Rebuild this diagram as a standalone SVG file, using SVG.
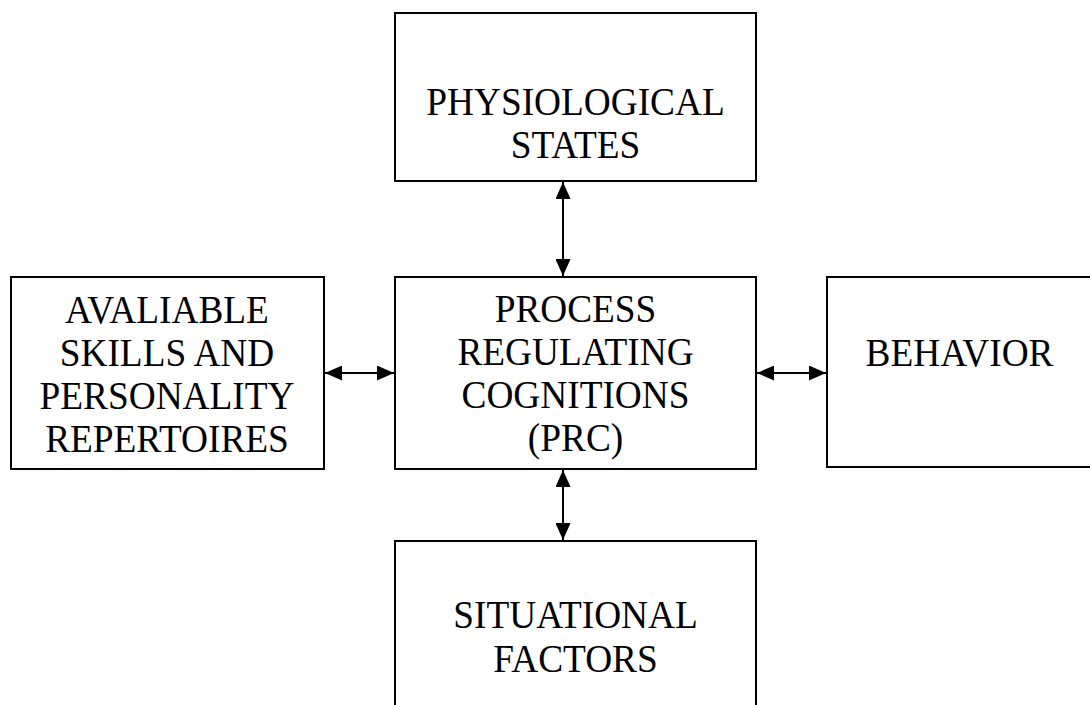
<svg xmlns="http://www.w3.org/2000/svg" width="1090" height="705" viewBox="0 0 1090 705">
<style>
.box{fill:#fff;stroke:#000;stroke-width:2}
.lbl{font-family:"Liberation Serif","Times New Roman",serif;font-size:41px;fill:#000;text-anchor:middle}
.con{stroke:#000;stroke-width:2;fill:none}
</style>
<defs>
<marker id="ah" viewBox="0 0 17 15" refX="17" refY="7.5" markerWidth="17" markerHeight="15" markerUnits="userSpaceOnUse" orient="auto-start-reverse">
<path d="M0,0 L17,7.5 L0,15 Z" fill="#000"/>
</marker>
</defs>
<rect width="1090" height="705" fill="#fff"/>
<g id="connectors">
<line class="con" x1="563" y1="182" x2="563" y2="276" marker-start="url(#ah)" marker-end="url(#ah)"/>
<line class="con" x1="563" y1="470" x2="563" y2="540" marker-start="url(#ah)" marker-end="url(#ah)"/>
<line class="con" x1="325" y1="373" x2="394" y2="373" marker-start="url(#ah)" marker-end="url(#ah)"/>
<line class="con" x1="757" y1="373" x2="826" y2="373" marker-start="url(#ah)" marker-end="url(#ah)"/>
</g>
<g id="physiological">
<rect class="box" x="395" y="13" width="361" height="168"/>
<g transform="translate(575.5 0) scale(0.91 1)">
<text class="lbl" x="0" y="115">PHYSIOLOGICAL</text>
<text class="lbl" x="0" y="158">STATES</text>
</g>
</g>
<g id="prc">
<rect class="box" x="395" y="277" width="361" height="192"/>
<g transform="translate(575.5 0) scale(0.91 1)">
<text class="lbl" x="0" y="322">PROCESS</text>
<text class="lbl" x="0" y="365">REGULATING</text>
<text class="lbl" x="0" y="408">COGNITIONS</text>
<text class="lbl" x="0" y="451">(PRC)</text>
</g>
</g>
<g id="skills">
<rect class="box" x="11" y="277" width="313" height="192"/>
<g transform="translate(167 0) scale(0.91 1)">
<text class="lbl" x="0" y="323">AVALIABLE</text>
<text class="lbl" x="0" y="366">SKILLS AND</text>
<text class="lbl" x="0" y="409">PERSONALITY</text>
<text class="lbl" x="0" y="452">REPERTOIRES</text>
</g>
</g>
<g id="behavior">
<rect class="box" x="827" y="277" width="280" height="190"/>
<g transform="translate(959.5 0) scale(0.91 1)">
<text class="lbl" x="0" y="366">BEHAVIOR</text>
</g>
</g>
<g id="situational">
<rect class="box" x="395" y="541" width="361" height="190"/>
<g transform="translate(575.5 0) scale(0.91 1)">
<text class="lbl" x="0" y="628">SITUATIONAL</text>
<text class="lbl" x="0" y="672">FACTORS</text>
</g>
</g>
</svg>
